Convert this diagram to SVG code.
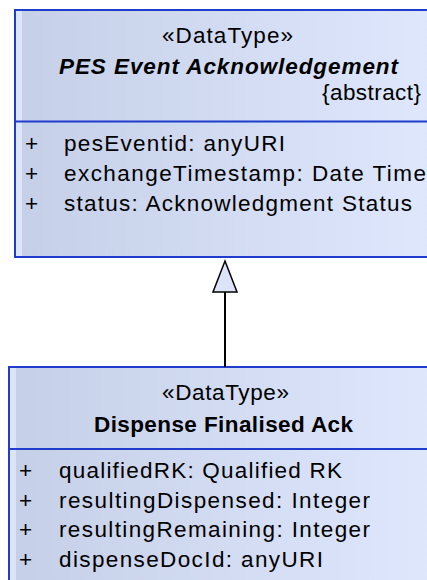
<svg xmlns="http://www.w3.org/2000/svg" width="427" height="580" viewBox="0 0 427 580">
<defs>
<linearGradient id="fillg" x1="0" y1="0" x2="1" y2="0">
<stop offset="0" stop-color="#c5cfe7"/>
<stop offset="1" stop-color="#dfe8fd"/>
</linearGradient>
</defs>
<style>
.box{fill:url(#fillg);stroke:#1f3ccc;stroke-width:2}
.strip{fill:#dde5f9}
.sep{stroke:#1f3ccc;stroke-width:2}
text{font-family:"Liberation Sans",Arial,sans-serif;font-size:22.5px;fill:#000}
.bi{font-weight:bold;font-style:italic}
.b{font-weight:bold}
.conn{stroke:#000;stroke-width:2;fill:none}
.head{fill:#dbe4f8;stroke:#000;stroke-width:1.5}
</style>
<g id="pes-event-ack">
<rect class="box" x="15" y="10" width="430" height="247"/>
<rect class="strip" x="16" y="11" width="6" height="245"/>
<line class="sep" x1="15" y1="121.5" x2="430" y2="121.5"/>
<text x="162" y="43" textLength="131" lengthAdjust="spacing">«DataType»</text>
<text class="bi" x="59" y="74" textLength="339" lengthAdjust="spacing">PES Event Acknowledgement</text>
<text x="322" y="100" textLength="99" lengthAdjust="spacing">{abstract}</text>
<text x="25" y="151">+</text>
<text x="64" y="151" textLength="221" lengthAdjust="spacing">pesEventid: anyURI</text>
<text x="25" y="181">+</text>
<text x="64" y="181" textLength="362" lengthAdjust="spacing">exchangeTimestamp: Date Time</text>
<text x="25" y="211">+</text>
<text x="64" y="211" textLength="348" lengthAdjust="spacing">status: Acknowledgment Status</text>
</g>
<g id="dispense-finalised-ack">
<rect class="box" x="9" y="367" width="440" height="230"/>
<rect class="strip" x="10" y="368" width="6" height="220"/>
<line class="sep" x1="9" y1="449" x2="430" y2="449"/>
<text x="162" y="400" textLength="127" lengthAdjust="spacing">«DataType»</text>
<text class="b" x="94" y="432" textLength="259" lengthAdjust="spacing">Dispense Finalised Ack</text>
<text x="19" y="478">+</text>
<text x="59" y="478" textLength="283" lengthAdjust="spacing">qualifiedRK: Qualified RK</text>
<text x="19" y="508">+</text>
<text x="59" y="508" textLength="311" lengthAdjust="spacing">resultingDispensed: Integer</text>
<text x="19" y="537">+</text>
<text x="59" y="537" textLength="311" lengthAdjust="spacing">resultingRemaining: Integer</text>
<text x="19" y="567">+</text>
<text x="59" y="567" textLength="264" lengthAdjust="spacing">dispenseDocId: anyURI</text>
</g>
<g id="connectors">
<line class="conn" x1="225" y1="292" x2="225" y2="367"/>
<polygon class="head" points="225,261 237,292 213,292"/>
</g>
</svg>
